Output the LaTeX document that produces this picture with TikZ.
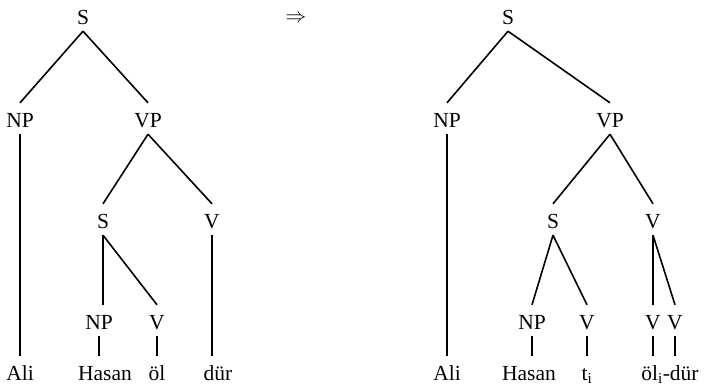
\documentclass[tikz,border=0pt]{standalone}
\usepackage{fontspec}
\setmainfont{Liberation Serif}
\usepackage{tikz}
\usetikzlibrary{positioning}

\begin{document}
\begin{tikzpicture}[x=1pt, y=-1pt,
        every node/.style={font=\fontsize{21.5}{26}\selectfont, anchor=base,
            inner sep=0pt, inner ysep=7pt, text height=17pt, text depth=0pt},
        branch/.style={line width=1.6pt}]
            \useasboundingbox (0, 0) rectangle (704, 386);

            % left tree
            \node at (83, 24)    (ls)     {S};
            \node at (20, 127)   (lnp)    {NP};
            \node at (148, 127)  (lvp)    {VP};
            \node at (103, 228)  (ls2)    {S};
            \node at (212, 228)  (lv)     {V};
            \node at (99, 329)   (lnp2)   {NP};
            \node at (157, 329)  (lv2)    {V};
            \node at (20, 380)   (lali)   {Ali};
            \node at (105, 380)  (lhasan) {Hasan};
            \node at (157, 380)  (lol)    {öl};
            \node at (218, 380)  (ldur)   {dür};

            \draw [branch] (ls.south) -- (lnp.north);
            \draw [branch] (ls.south) -- (lvp.north);
            \draw [branch] (lnp.south) -- (lnp.south |- lali.north);
            \draw [branch] (lvp.south) -- (ls2.north);
            \draw [branch] (lvp.south) -- (lv.north);
            \draw [branch] (ls2.south) -- (ls2.south |- lnp2.north);
            \draw [branch] (ls2.south) -- (lv2.north);
            \draw [branch] (lv.south) -- (lv.south |- ldur.north);
            \draw [branch] (lnp2.south) -- (lnp2.south |- lhasan.north);
            \draw [branch] (lv2.south) -- (lv2.south |- lol.north);

            \node at (296, 22)   (arrow)  {$\Rightarrow$};

            % right tree
            \node at (508, 24)   (rs)     {S};
            \node at (447, 127)  (rnp)    {NP};
            \node at (610, 127)  (rvp)    {VP};
            \node at (553, 228)  (rs2)    {S};
            \node at (653, 228)  (rv)     {V};
            \node at (532, 329)  (rnp2)   {NP};
            \node at (587, 329)  (rv2)    {V};
            \node at (653, 329)  (rv3)    {V};
            \node at (675, 329)  (rv4)    {V};
            \node at (447, 380)  (rali)   {Ali};
            \node at (529, 380)  (rhasan) {Hasan};
            \node at (587, 380)  (rt)     {t\textsubscript{i}};
            \node at (670, 380)  (rdur)   {öl\textsubscript{i}-dür};

            \draw [branch] (rs.south) -- (rnp.north);
            \draw [branch] (rs.south) -- (rvp.north);
            \draw [branch] (rnp.south) -- (rnp.south |- rali.north);
            \draw [branch] (rvp.south) -- (rs2.north);
            \draw [branch] (rvp.south) -- (rv.north);
            \draw [branch] (rs2.south) -- (rnp2.north);
            \draw [branch] (rs2.south) -- (rv2.north);
            \draw [branch] (rv.south) -- (rv.south |- rv3.north);
            \draw [branch] (rv.south) -- (rv4.north);
            \draw [branch] (rnp2.south) -- (rnp2.south |- rhasan.north);
            \draw [branch] (rv2.south) -- (rv2.south |- rt.north);
            \draw [branch] (rv3.south) -- (rv3.south |- rdur.north);
            \draw [branch] (rv4.south) -- (rv4.south |- rdur.north);
        \end{tikzpicture}
\end{document}
